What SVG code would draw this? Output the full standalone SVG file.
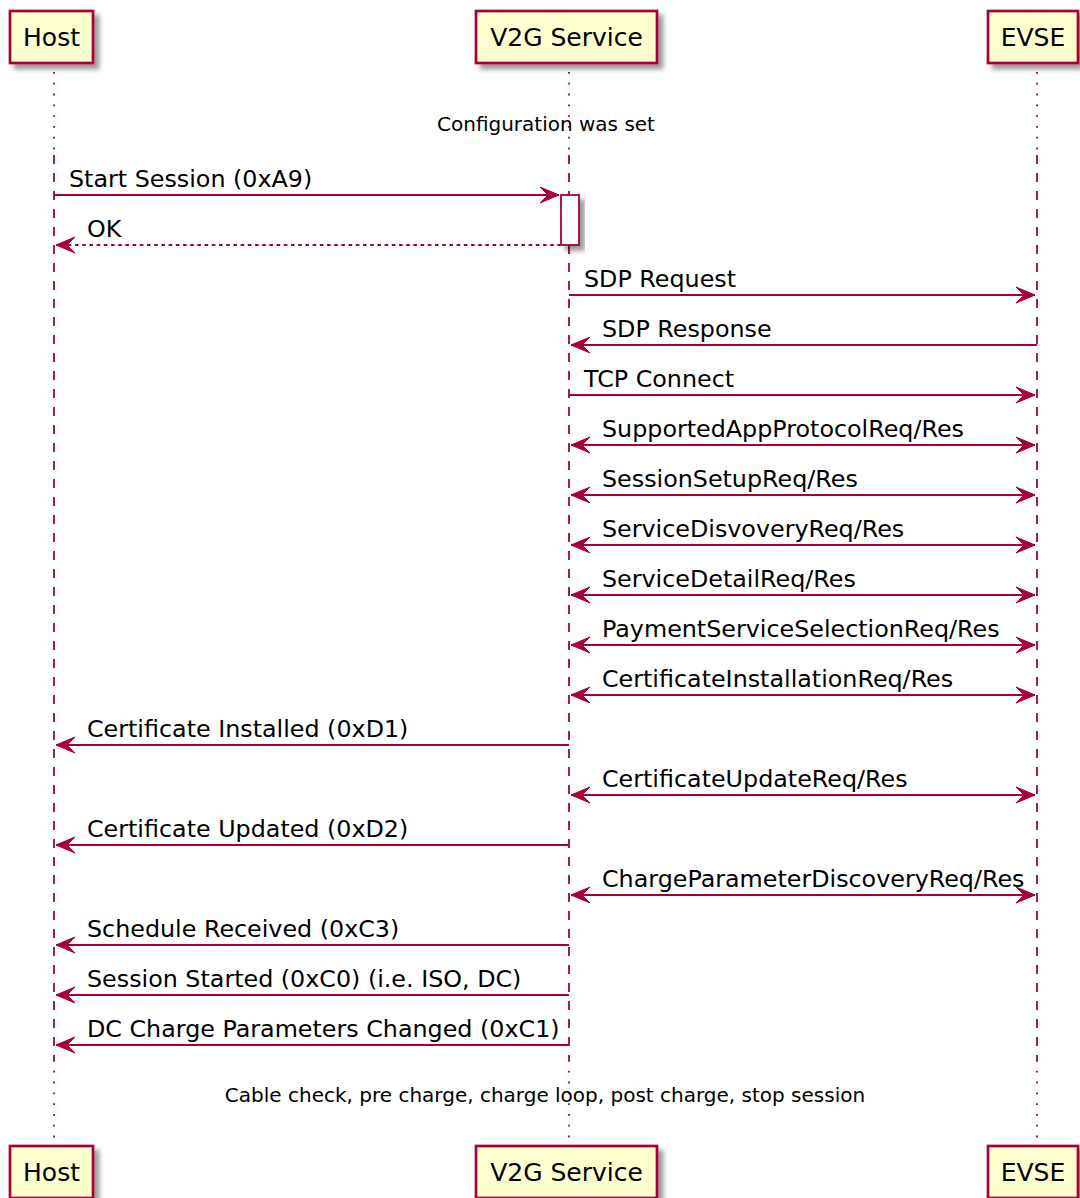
<svg xmlns="http://www.w3.org/2000/svg" width="1080" height="1198" viewBox="0 0 1080 1198">
<style>
.part{fill:#FEFECE;stroke:#A80036;stroke-width:2.7;filter:url(#sh)}
.act{fill:#FFFFFF;stroke:#A80036;stroke-width:1.8;filter:url(#sh)}
.pt{font-family:"DejaVu Sans",sans-serif;font-size:25px;fill:#000;text-anchor:middle}
.mt{font-family:"DejaVu Sans",sans-serif;font-size:23.8px;fill:#000}
.dt{font-family:"DejaVu Sans",sans-serif;font-size:20px;fill:#000;text-anchor:middle}
.ll{stroke:#A80036;stroke-width:1.8;fill:none}
.dash{stroke-dasharray:9 9}
.dot{stroke-dasharray:1.8 9}
.msg{stroke:#A80036;stroke-width:1.8;fill:none;marker-end:url(#ah)}
.both{marker-start:url(#ah)}
.ret{stroke-dasharray:3.6 3.6}
</style>
<defs>
<filter id="sh" x="-20%" y="-20%" width="150%" height="150%">
<feDropShadow dx="5" dy="5" stdDeviation="2.5" flood-color="#000" flood-opacity="0.4"/>
</filter>
<marker id="ah" markerUnits="userSpaceOnUse" viewBox="-20 -9 21 18" refX="0" refY="0" markerWidth="21" markerHeight="18" orient="auto-start-reverse" overflow="visible">
<path d="M0,0 L-19,-8 L-11,0 L-19,8 Z" fill="#A80036" stroke="#A80036" stroke-width="1"/>
</marker>
</defs>
<g id="lifelines">
<line class="ll dot" x1="54" y1="72" x2="54" y2="155"/>
<line class="ll dash" x1="54" y1="155" x2="54" y2="1060"/>
<line class="ll dot" x1="54" y1="1060" x2="54" y2="1142"/>
<line class="ll dot" x1="569" y1="72" x2="569" y2="155"/>
<line class="ll dash" x1="569" y1="155" x2="569" y2="1060"/>
<line class="ll dot" x1="569" y1="1060" x2="569" y2="1142"/>
<line class="ll dot" x1="1037" y1="72" x2="1037" y2="155"/>
<line class="ll dash" x1="1037" y1="155" x2="1037" y2="1060"/>
<line class="ll dot" x1="1037" y1="1060" x2="1037" y2="1142"/>
</g>
<g id="host">
<rect class="part" x="10" y="11" width="83" height="52"/>
<text class="pt" x="51.5" y="46">Host</text>
</g>
<g id="v2g">
<rect class="part" x="476" y="11" width="181" height="52"/>
<text class="pt" x="566.5" y="46">V2G Service</text>
</g>
<g id="evse">
<rect class="part" x="988" y="11" width="90" height="52"/>
<text class="pt" x="1033" y="46">EVSE</text>
</g>
<g id="host-bottom">
<rect class="part" x="10" y="1146" width="83" height="52"/>
<text class="pt" x="51.5" y="1181">Host</text>
</g>
<g id="v2g-bottom">
<rect class="part" x="476" y="1146" width="181" height="52"/>
<text class="pt" x="566.5" y="1181">V2G Service</text>
</g>
<g id="evse-bottom">
<rect class="part" x="988" y="1146" width="90" height="52"/>
<text class="pt" x="1033" y="1181">EVSE</text>
</g>
<g id="activation">
<rect class="act" x="561" y="195" width="18" height="50"/>
</g>
<g id="delays">
<text class="dt" x="546" y="131">Configuration was set</text>
<text class="dt" x="545" y="1102">Cable check, pre charge, charge loop, post charge, stop session</text>
</g>
<g id="connectors">
<line class="msg" x1="54" y1="195" x2="559" y2="195"/>
<line class="msg ret" x1="561" y1="245" x2="56" y2="245"/>
<line class="msg" x1="569" y1="295" x2="1035" y2="295"/>
<line class="msg" x1="1037" y1="345" x2="571" y2="345"/>
<line class="msg" x1="569" y1="395" x2="1035" y2="395"/>
<line class="msg both" x1="571" y1="445" x2="1035" y2="445"/>
<line class="msg both" x1="571" y1="495" x2="1035" y2="495"/>
<line class="msg both" x1="571" y1="545" x2="1035" y2="545"/>
<line class="msg both" x1="571" y1="595" x2="1035" y2="595"/>
<line class="msg both" x1="571" y1="645" x2="1035" y2="645"/>
<line class="msg both" x1="571" y1="695" x2="1035" y2="695"/>
<line class="msg" x1="569" y1="745" x2="56" y2="745"/>
<line class="msg both" x1="571" y1="795" x2="1035" y2="795"/>
<line class="msg" x1="569" y1="845" x2="56" y2="845"/>
<line class="msg both" x1="571" y1="895" x2="1035" y2="895"/>
<line class="msg" x1="569" y1="945" x2="56" y2="945"/>
<line class="msg" x1="569" y1="995" x2="56" y2="995"/>
<line class="msg" x1="569" y1="1045" x2="56" y2="1045"/>
</g>
<g id="labels">
<text class="mt" x="69" y="187">Start Session (0xA9)</text>
<text class="mt" x="87" y="237">OK</text>
<text class="mt" x="584" y="287">SDP Request</text>
<text class="mt" x="602" y="337">SDP Response</text>
<text class="mt" x="584" y="387">TCP Connect</text>
<text class="mt" x="602" y="437">SupportedAppProtocolReq/Res</text>
<text class="mt" x="602" y="487">SessionSetupReq/Res</text>
<text class="mt" x="602" y="537">ServiceDisvoveryReq/Res</text>
<text class="mt" x="602" y="587">ServiceDetailReq/Res</text>
<text class="mt" x="602" y="637">PaymentServiceSelectionReq/Res</text>
<text class="mt" x="602" y="687">CertificateInstallationReq/Res</text>
<text class="mt" x="87" y="737">Certificate Installed (0xD1)</text>
<text class="mt" x="602" y="787">CertificateUpdateReq/Res</text>
<text class="mt" x="87" y="837">Certificate Updated (0xD2)</text>
<text class="mt" x="602" y="887">ChargeParameterDiscoveryReq/Res</text>
<text class="mt" x="87" y="937">Schedule Received (0xC3)</text>
<text class="mt" x="87" y="987">Session Started (0xC0) (i.e. ISO, DC)</text>
<text class="mt" x="87" y="1037">DC Charge Parameters Changed (0xC1)</text>
</g>
</svg>
